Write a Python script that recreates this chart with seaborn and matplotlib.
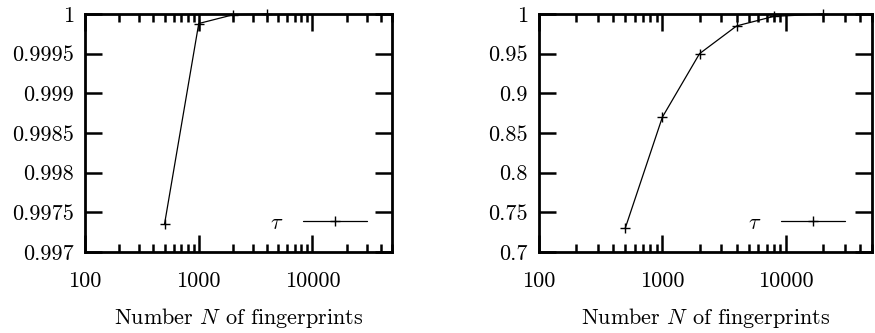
import matplotlib
matplotlib.use("Agg")
import matplotlib.pyplot as plt
import seaborn as sns
import pandas as pd
from matplotlib.ticker import FixedLocator, FixedFormatter, LogLocator, NullFormatter

# Data
n_left = [500, 1000, 2000, 4000]
tau_left = [0.99735, 0.99988, 0.99999, 1.0]
n_right = [500, 1000, 2000, 4000, 8000, 20000]
tau_right = [0.73, 0.87, 0.95, 0.985, 0.997, 1.0]

yticks_left = [0.997, 0.9975, 0.998, 0.9985, 0.999, 0.9995, 1.0]
ylabels_left = ["0.997", "0.9975", "0.998", "0.9985", "0.999", "0.9995", "1"]
yticks_right = [0.7, 0.75, 0.8, 0.85, 0.9, 0.95, 1.0]
ylabels_right = ["0.7", "0.75", "0.8", "0.85", "0.9", "0.95", "1"]
xticks = [100, 1000, 10000]
xlabels = ["100", "1000", "10000"]
xlabel_text = "Number $N$ of fingerprints"
legend_label = r"$\tau$"

sns.set_style("ticks")
plt.rcParams["font.family"] = ["cmr10"]
plt.rcParams["mathtext.fontset"] = "cm"
plt.rcParams["axes.unicode_minus"] = False
for k in ["text.color", "axes.labelcolor", "xtick.color", "ytick.color", "axes.edgecolor"]:
    plt.rcParams[k] = "black"

fig = plt.figure(figsize=(8.75, 3.33), dpi=100)
axL = fig.add_axes([85/875, (333-252)/333, 307/875, 238/333])
axR = fig.add_axes([539/875, (333-252)/333, 333/875, 238/333])

def style(ax, n, tau, yt, yl, legx):
    df = pd.DataFrame({"N": n, "tau": tau})
    sns.lineplot(data=df, x="N", y="tau", ax=ax, color="black", lw=0.9,
                 marker="+", markersize=6.5, markeredgewidth=1.0,
                 markeredgecolor="black", markerfacecolor="black",
                 label=legend_label, clip_on=False)
    ax.set_xscale("log")
    ax.set_xlim(100, 50000)
    ax.set_ylim(yt[0], yt[-1])
    ax.xaxis.set_major_locator(FixedLocator(xticks))
    ax.xaxis.set_major_formatter(FixedFormatter(xlabels))
    ax.xaxis.set_minor_locator(LogLocator(base=10, subs=range(2, 10), numticks=20))
    ax.xaxis.set_minor_formatter(NullFormatter())
    ax.yaxis.set_major_locator(FixedLocator(yt))
    ax.yaxis.set_major_formatter(FixedFormatter(yl))
    for s in ax.spines.values():
        s.set_linewidth(2.0)
        s.set_color("black")
        s.set_visible(True)
    ax.tick_params(which="major", direction="in", length=12.5, width=1.8,
                   top=True, right=True, labelsize=16, color="black", labelcolor="black")
    ax.tick_params(which="minor", direction="in", length=6, width=1.8,
                   top=True, right=True, color="black")
    ax.tick_params(axis="x", which="major", pad=14)
    ax.tick_params(axis="y", which="major", pad=8)
    ax.set_xlabel(xlabel_text, fontsize=16, labelpad=11, color="black")
    ax.set_ylabel("")
    ax.legend(loc="lower right", bbox_to_anchor=(legx, 0.08), frameon=False,
              markerfirst=False, fontsize=16, handlelength=2.9,
              handletextpad=0.9, borderpad=0, borderaxespad=0, labelcolor="black")

style(axL, n_left, tau_left, yticks_left, ylabels_left, 0.92)
style(axR, n_right, tau_right, yticks_right, ylabels_right, 0.92)

fig.savefig("out.png", dpi=100)
